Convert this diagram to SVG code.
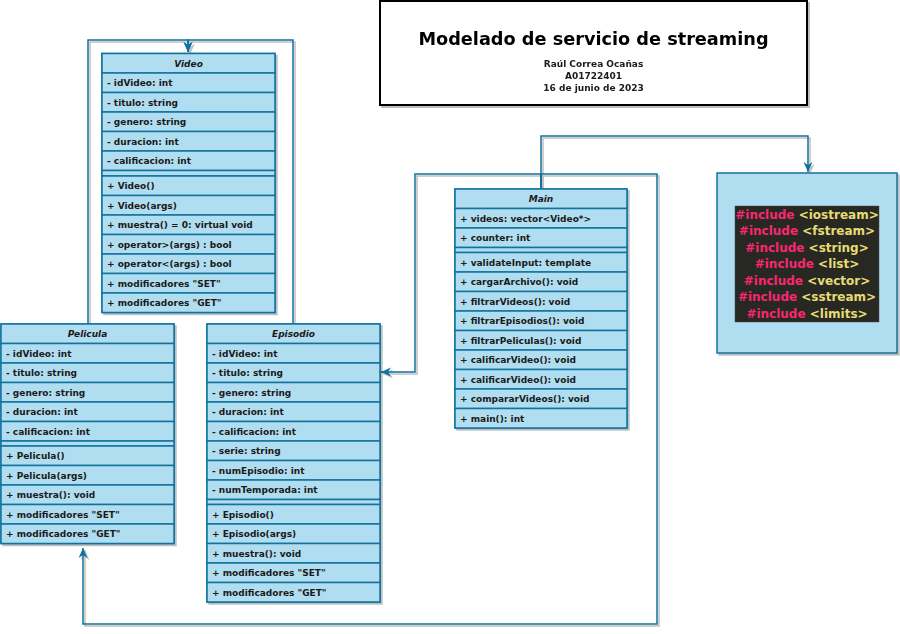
<svg xmlns="http://www.w3.org/2000/svg" width="900" height="634" viewBox="0 0 900 634">
<defs>
<style>
.cell{fill:#b1ddf0;stroke:#10739e;stroke-width:1.5}
.t{font-family:"DejaVu Sans",Verdana,sans-serif;font-size:9px;font-weight:bold;fill:#1a1a1a}
.h{font-family:"DejaVu Sans",Verdana,sans-serif;font-size:9px;font-style:italic;font-weight:bold;fill:#1a1a1a;text-anchor:middle}
.conn{fill:none;stroke:#10739e;stroke-width:1.5}
.inc{font-family:"DejaVu Sans",Verdana,sans-serif;font-size:12px;font-weight:bold;text-anchor:middle}
.kw{fill:#F92672}
.lib{fill:#E6DB74}
</style>
<filter id="sh" x="-5%" y="-5%" width="115%" height="115%">
<feDropShadow dx="2" dy="2" stdDeviation="0.3" flood-color="#000" flood-opacity="0.25"/>
</filter>
<marker id="arr" markerUnits="userSpaceOnUse" markerWidth="11" markerHeight="10" refX="10" refY="4.5" orient="auto">
<path d="M0,0 L10,4.5 L0,9 L3,4.5 z" fill="#10739e"/>
</marker>
</defs>
<rect width="900" height="634" fill="#ffffff"/>

<g id="connectors" filter="url(#sh)">
<path class="conn" d="M88,324 V40 H188 V52" marker-end="url(#arr)"/>
<path class="conn" d="M293,324 V40 H188 V52" marker-end="url(#arr)"/>
<path class="conn" d="M541,189 V136 H808 V172" marker-end="url(#arr)"/>
<path class="conn" d="M541,189 V174 H415 V372 H381" marker-end="url(#arr)"/>
<path class="conn" d="M541,189 V174 H657 V624 H83 V548" marker-end="url(#arr)"/>
</g>

<g id="title" filter="url(#sh)">
<rect x="380" y="1" width="427" height="104" fill="#ffffff" stroke="#000000" stroke-width="2"/>
<text x="593.5" y="44.5" font-family="'DejaVu Sans',Verdana,sans-serif" font-size="17.7" font-weight="bold" text-anchor="middle" fill="#000">Modelado de servicio de streaming</text>
<text x="593.5" y="67" class="t" text-anchor="middle" fill="#000">Raúl Correa Ocañas</text>
<text x="593.5" y="79" class="t" text-anchor="middle" fill="#000">A01722401</text>
<text x="593.5" y="90.5" class="t" text-anchor="middle" fill="#000">16 de junio de 2023</text>
</g>

<g id="Video">
<rect class="cell" x="102" y="53.5" width="173" height="259" filter="url(#sh)"/>
<rect class="cell" x="102" y="53.5" width="173" height="19.5"/>
<rect class="cell" x="102" y="73" width="173" height="19.5"/>
<rect class="cell" x="102" y="92.5" width="173" height="19.5"/>
<rect class="cell" x="102" y="112" width="173" height="19.5"/>
<rect class="cell" x="102" y="131.5" width="173" height="19.5"/>
<rect class="cell" x="102" y="151" width="173" height="19.5"/>
<rect class="cell" x="102" y="170.5" width="173" height="5.5"/>
<rect class="cell" x="102" y="176" width="173" height="19.5"/>
<rect class="cell" x="102" y="195.5" width="173" height="19.5"/>
<rect class="cell" x="102" y="215" width="173" height="19.5"/>
<rect class="cell" x="102" y="234.5" width="173" height="19.5"/>
<rect class="cell" x="102" y="254" width="173" height="19.5"/>
<rect class="cell" x="102" y="273.5" width="173" height="19.5"/>
<rect class="cell" x="102" y="293" width="173" height="19.5"/>
<text class="h" x="188.5" y="66.5">Video</text>
<text class="t" x="107" y="86">- idVideo: int</text>
<text class="t" x="107" y="105.5">- titulo: string</text>
<text class="t" x="107" y="125">- genero: string</text>
<text class="t" x="107" y="144.5">- duracion: int</text>
<text class="t" x="107" y="164">- calificacion: int</text>
<text class="t" x="107" y="189">+ Video()</text>
<text class="t" x="107" y="208.5">+ Video(args)</text>
<text class="t" x="107" y="228">+ muestra() = 0: virtual void</text>
<text class="t" x="107" y="247.5">+ operator&gt;(args) : bool</text>
<text class="t" x="107" y="267">+ operator&lt;(args) : bool</text>
<text class="t" x="107" y="286.5">+ modificadores "SET"</text>
<text class="t" x="107" y="306">+ modificadores "GET"</text>
</g>

<g id="Pelicula">
<rect class="cell" x="1" y="324" width="173" height="219.5" filter="url(#sh)"/>
<rect class="cell" x="1" y="324" width="173" height="19.5"/>
<rect class="cell" x="1" y="343.5" width="173" height="19.5"/>
<rect class="cell" x="1" y="363" width="173" height="19.5"/>
<rect class="cell" x="1" y="382.5" width="173" height="19.5"/>
<rect class="cell" x="1" y="402" width="173" height="19.5"/>
<rect class="cell" x="1" y="421.5" width="173" height="19.5"/>
<rect class="cell" x="1" y="441" width="173" height="5"/>
<rect class="cell" x="1" y="446" width="173" height="19.5"/>
<rect class="cell" x="1" y="465.5" width="173" height="19.5"/>
<rect class="cell" x="1" y="485" width="173" height="19.5"/>
<rect class="cell" x="1" y="504.5" width="173" height="19.5"/>
<rect class="cell" x="1" y="524" width="173" height="19.5"/>
<text class="h" x="87.5" y="337">Pelicula</text>
<text class="t" x="6" y="356.5">- idVideo: int</text>
<text class="t" x="6" y="376">- titulo: string</text>
<text class="t" x="6" y="395.5">- genero: string</text>
<text class="t" x="6" y="415">- duracion: int</text>
<text class="t" x="6" y="434.5">- calificacion: int</text>
<text class="t" x="6" y="459">+ Pelicula()</text>
<text class="t" x="6" y="478.5">+ Pelicula(args)</text>
<text class="t" x="6" y="498">+ muestra(): void</text>
<text class="t" x="6" y="517.5">+ modificadores "SET"</text>
<text class="t" x="6" y="537">+ modificadores "GET"</text>
</g>

<g id="Episodio">
<rect class="cell" x="207" y="324" width="173" height="278" filter="url(#sh)"/>
<rect class="cell" x="207" y="324" width="173" height="19.5"/>
<rect class="cell" x="207" y="343.5" width="173" height="19.5"/>
<rect class="cell" x="207" y="363" width="173" height="19.5"/>
<rect class="cell" x="207" y="382.5" width="173" height="19.5"/>
<rect class="cell" x="207" y="402" width="173" height="19.5"/>
<rect class="cell" x="207" y="421.5" width="173" height="19.5"/>
<rect class="cell" x="207" y="441" width="173" height="19.5"/>
<rect class="cell" x="207" y="460.5" width="173" height="19.5"/>
<rect class="cell" x="207" y="480" width="173" height="19.5"/>
<rect class="cell" x="207" y="499.5" width="173" height="5"/>
<rect class="cell" x="207" y="504.5" width="173" height="19.5"/>
<rect class="cell" x="207" y="524" width="173" height="19.5"/>
<rect class="cell" x="207" y="543.5" width="173" height="19.5"/>
<rect class="cell" x="207" y="563" width="173" height="19.5"/>
<rect class="cell" x="207" y="582.5" width="173" height="19.5"/>
<text class="h" x="293.5" y="337">Episodio</text>
<text class="t" x="212" y="356.5">- idVideo: int</text>
<text class="t" x="212" y="376">- titulo: string</text>
<text class="t" x="212" y="395.5">- genero: string</text>
<text class="t" x="212" y="415">- duracion: int</text>
<text class="t" x="212" y="434.5">- calificacion: int</text>
<text class="t" x="212" y="454">- serie: string</text>
<text class="t" x="212" y="473.5">- numEpisodio: int</text>
<text class="t" x="212" y="493">- numTemporada: int</text>
<text class="t" x="212" y="517.5">+ Episodio()</text>
<text class="t" x="212" y="537">+ Episodio(args)</text>
<text class="t" x="212" y="556.5">+ muestra(): void</text>
<text class="t" x="212" y="576">+ modificadores "SET"</text>
<text class="t" x="212" y="595.5">+ modificadores "GET"</text>
</g>

<g id="Main">
<rect class="cell" x="455" y="189" width="172" height="239" filter="url(#sh)"/>
<rect class="cell" x="455" y="189" width="172" height="19.5"/>
<rect class="cell" x="455" y="208.5" width="172" height="19.5"/>
<rect class="cell" x="455" y="228" width="172" height="19.5"/>
<rect class="cell" x="455" y="247.5" width="172" height="5"/>
<rect class="cell" x="455" y="252.5" width="172" height="19.5"/>
<rect class="cell" x="455" y="272" width="172" height="19.5"/>
<rect class="cell" x="455" y="291.5" width="172" height="19.5"/>
<rect class="cell" x="455" y="311" width="172" height="19.5"/>
<rect class="cell" x="455" y="330.5" width="172" height="19.5"/>
<rect class="cell" x="455" y="350" width="172" height="19.5"/>
<rect class="cell" x="455" y="369.5" width="172" height="19.5"/>
<rect class="cell" x="455" y="389" width="172" height="19.5"/>
<rect class="cell" x="455" y="408.5" width="172" height="19.5"/>
<text class="h" x="541" y="202">Main</text>
<text class="t" x="460" y="221.5">+ videos: vector&lt;Video*&gt;</text>
<text class="t" x="460" y="241">+ counter: int</text>
<text class="t" x="460" y="265.5">+ validateInput: template</text>
<text class="t" x="460" y="285">+ cargarArchivo(): void</text>
<text class="t" x="460" y="304.5">+ filtrarVideos(): void</text>
<text class="t" x="460" y="324">+ filtrarEpisodios(): void</text>
<text class="t" x="460" y="343.5">+ filtrarPeliculas(): void</text>
<text class="t" x="460" y="363">+ calificarVideo(): void</text>
<text class="t" x="460" y="382.5">+ calificarVideo(): void</text>
<text class="t" x="460" y="402">+ compararVideos(): void</text>
<text class="t" x="460" y="421.5">+ main(): int</text>
</g>

<g id="includes">
<rect class="cell" x="717" y="173" width="180" height="180" filter="url(#sh)"/>
<rect x="735" y="206" width="144" height="116" fill="#272822" stroke="#4a4a44" stroke-width="0.5"/>
<text class="inc" x="807" y="218.5"><tspan class="kw">#include</tspan><tspan class="lib"> &lt;iostream&gt;</tspan></text>
<text class="inc" x="807" y="235"><tspan class="kw">#include</tspan><tspan class="lib"> &lt;fstream&gt;</tspan></text>
<text class="inc" x="807" y="251.5"><tspan class="kw">#include</tspan><tspan class="lib"> &lt;string&gt;</tspan></text>
<text class="inc" x="807" y="268"><tspan class="kw">#include</tspan><tspan class="lib"> &lt;list&gt;</tspan></text>
<text class="inc" x="807" y="284.5"><tspan class="kw">#include</tspan><tspan class="lib"> &lt;vector&gt;</tspan></text>
<text class="inc" x="807" y="301"><tspan class="kw">#include</tspan><tspan class="lib"> &lt;sstream&gt;</tspan></text>
<text class="inc" x="807" y="317.5"><tspan class="kw">#include</tspan><tspan class="lib"> &lt;limits&gt;</tspan></text>
</g>
</svg>
